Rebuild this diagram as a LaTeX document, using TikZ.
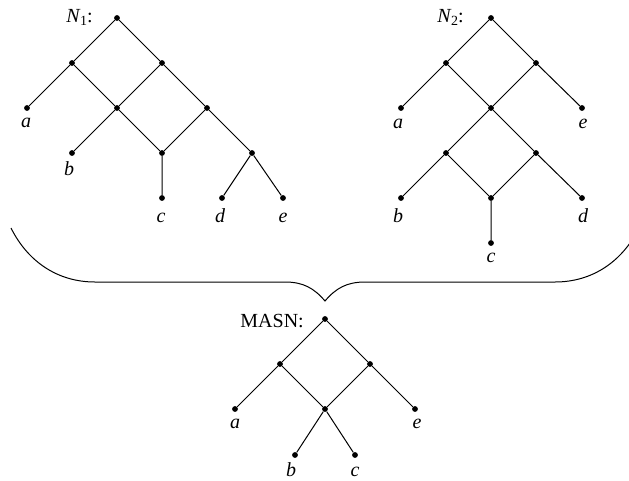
\documentclass[tikz,border=0pt]{standalone}
\usepackage{fontspec}
\setmainfont{Liberation Serif}
\begin{document}
\begin{tikzpicture}[x=1pt,y=-1pt,
  dot/.style={circle,fill=black,inner sep=0pt,minimum size=5.8pt},
  edge/.style={line width=1pt},
  lab/.style={anchor=base,font=\fontsize{20}{22}\selectfont\itshape,inner sep=0pt},
  title/.style={anchor=base east,font=\fontsize{20}{22}\selectfont,inner sep=0pt}]
\useasboundingbox (0,0) rectangle (629,480);
\clip (0,0) rectangle (629,480);
% ---------- N1 ----------
\node[dot] (r1) at (117,18) {};
\node[dot] (u1) at (72,63) {};
\node[dot] (v1) at (162,63) {};
\node[dot] (a1) at (27,108) {};
\node[dot] (h1) at (117,108) {};
\node[dot] (w1) at (207,108) {};
\node[dot] (b1) at (72,153) {};
\node[dot] (k1) at (162,153) {};
\node[dot] (x1) at (252,153) {};
\node[dot] (c1) at (162,198) {};
\node[dot] (d1) at (222,198) {};
\node[dot] (e1) at (283,198) {};
\draw[edge] (r1)--(u1) (r1)--(v1) (u1)--(a1) (u1)--(h1) (v1)--(h1) (v1)--(w1)
  (h1)--(b1) (h1)--(k1) (w1)--(k1) (w1)--(x1) (k1)--(c1) (x1)--(d1) (x1)--(e1);
\node[lab] (la1) at (26,127) {a};
\node[lab] (lb1) at (69,175) {b};
\node[lab] (lc1) at (161,222) {c};
\node[lab] (ld1) at (220,222) {d};
\node[lab] (le1) at (283,222) {e};
\node[title] (t1) at (93,22) {\textit{N}\kern-0.5pt\raisebox{-3.5pt}{\fontsize{14}{14}\selectfont 1}:};
% ---------- N2 ----------
\node[dot] (r2) at (491,18) {};
\node[dot] (u2) at (446,63) {};
\node[dot] (v2) at (536,63) {};
\node[dot] (a2) at (401,108) {};
\node[dot] (h2) at (491,108) {};
\node[dot] (e2) at (582,108) {};
\node[dot] (p2) at (446,153) {};
\node[dot] (q2) at (536,153) {};
\node[dot] (b2) at (401,198) {};
\node[dot] (k2) at (491,198) {};
\node[dot] (d2) at (582,198) {};
\node[dot] (c2) at (491,243) {};
\draw[edge] (r2)--(u2) (r2)--(v2) (u2)--(a2) (u2)--(h2) (v2)--(h2) (v2)--(e2)
  (h2)--(p2) (h2)--(q2) (p2)--(b2) (p2)--(k2) (q2)--(k2) (q2)--(d2) (k2)--(c2);
\node[lab] (la2) at (398,128) {a};
\node[lab] (le2) at (583,128) {e};
\node[lab] (lb2) at (398,222) {b};
\node[lab] (ld2) at (583,222) {d};
\node[lab] (lc2) at (491,262) {c};
\node[title] (t2) at (464,22) {\textit{N}\kern-0.5pt\raisebox{-3.5pt}{\fontsize{14}{14}\selectfont 2}:};
% ---------- brace ----------
\coordinate (bl) at (11,228);
\coordinate (bl2) at (95,282);
\coordinate (bm1) at (285,282);
\coordinate (tip) at (325,301);
\coordinate (bm2) at (365,282);
\coordinate (br2) at (555,282);
\coordinate (br) at (639,228);
\draw[edge] (bl) .. controls (28,262) and (58,282) .. (bl2) -- (bm1)
  .. controls (303,282) and (314,288) .. (tip)
  .. controls (336,288) and (347,282) .. (bm2) -- (br2)
  .. controls (592,282) and (622,262) .. (br);
% ---------- MASN ----------
\node[dot] (r3) at (325,319) {};
\node[dot] (u3) at (280,364) {};
\node[dot] (v3) at (370,364) {};
\node[dot] (a3) at (235,409) {};
\node[dot] (h3) at (325,409) {};
\node[dot] (e3) at (415,409) {};
\node[dot] (b3) at (295,455) {};
\node[dot] (c3) at (355,455) {};
\draw[edge] (r3)--(u3) (r3)--(v3) (u3)--(a3) (u3)--(h3) (v3)--(h3) (v3)--(e3)
  (h3)--(b3) (h3)--(c3);
\node[lab] (la3) at (235,428) {a};
\node[lab] (le3) at (417,428) {e};
\node[lab] (lb3) at (291,476) {b};
\node[lab] (lc3) at (355,476) {c};
\node[title] (t3) at (304,327) {MASN:};
\end{tikzpicture}
\end{document}
